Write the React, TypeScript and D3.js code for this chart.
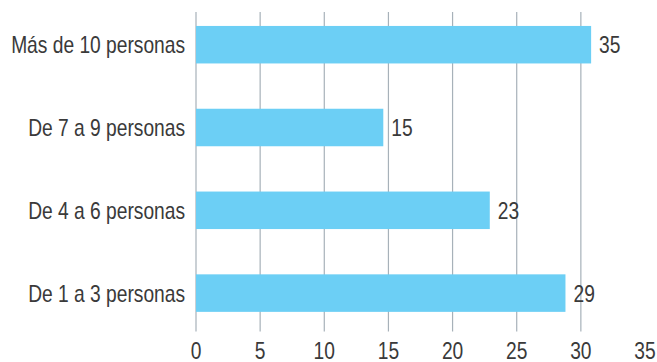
import React from "react";
import * as d3 from "d3";

const categories = ["Más de 10 personas", "De 7 a 9 personas", "De 4 a 6 personas", "De 1 a 3 personas"];
const barValues = [30.8, 14.6, 22.9, 28.8];
const valueLabels = ["35", "15", "23", "29"];
const tickValues = [0, 5, 10, 15, 20, 25, 30, 35];
const gridValues = [0, 5, 10, 15, 20, 25, 30];

const W = 657;
const H = 362;
const FONT = "'Liberation Sans', Arial, sans-serif";
const SX = 0.8;

function NarrowText(props: { x: number; y: number; anchor?: string; dy?: string; children: React.ReactNode }) {
  return (
    <text
      transform={`translate(${props.x},${props.y}) scale(${SX},1)`}
      dy={props.dy}
      textAnchor={props.anchor || "start"}
      fontFamily={FONT}
      fontSize={24}
      fill="#3a3a3a"
    >
      {props.children}
    </text>
  );
}

export default function App() {
  const x = d3.scaleLinear().domain([0, 35]).range([196, 645]);
  const y = d3.scaleBand<string>().domain(categories).range([3.3, 334.5]).paddingInner(0.547).paddingOuter(0.2735);
  const gridColor = "#a7b1b9";
  return (
    <svg width={W} height={H} style={{ position: "absolute", left: 0, top: 0, background: "#fff" }}>
      {gridValues.map((v) => (
        <line key={v} x1={x(v)} x2={x(v)} y1={12} y2={331.5} stroke={gridColor} strokeWidth={1.2} />
      ))}
      {categories.map((c, i) => {
        const cy = (y(c) as number) + y.bandwidth() / 2;
        return (
          <g key={c}>
            <rect x={x(0)} y={y(c)} width={x(barValues[i]) - x(0)} height={y.bandwidth()} fill="#6ccff5" />
            <NarrowText x={x(barValues[i]) + 8} y={cy} dy="0.36em">
              {valueLabels[i]}
            </NarrowText>
            <NarrowText x={185} y={cy} dy="0.36em" anchor="end">
              {c}
            </NarrowText>
          </g>
        );
      })}
      {tickValues.map((v) => (
        <NarrowText key={v} x={x(v)} y={359} anchor="middle">
          {v}
        </NarrowText>
      ))}
    </svg>
  );
}
